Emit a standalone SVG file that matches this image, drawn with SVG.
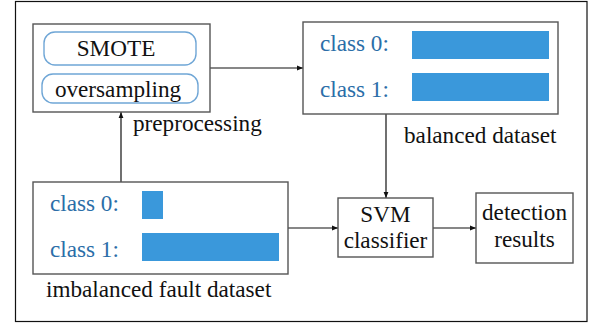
<svg xmlns="http://www.w3.org/2000/svg" width="597" height="326" viewBox="0 0 597 326">
<style>
.box{fill:#fff;stroke:#555;stroke-width:1.4}
.pill{fill:#fff;stroke:#6fa6d6;stroke-width:1.4}
.bar{fill:#3a98db}
text{font-family:'Liberation Serif','Times New Roman','DejaVu Serif',serif;font-size:23.2px}
.t{fill:#111}
.c{fill:#2b6ea8}
.mid{text-anchor:middle}
.ln{stroke:#111;stroke-width:1.2;fill:none}
</style>
<defs>
<marker id="ah" viewBox="0 0 10 10" refX="10" refY="5" markerWidth="8" markerHeight="6" orient="auto" markerUnits="userSpaceOnUse">
<path d="M0,1 L10,5 L0,9 z" fill="#111"/>
</marker>
</defs>
<rect x="0" y="0" width="597" height="326" fill="#fff"/>
<rect x="15.5" y="1.5" width="571.5" height="320" fill="none" stroke="#111" stroke-width="1.2"/>
<g id="connectors">
<path class="ln" d="M121,182 V112" marker-end="url(#ah)"/>
<path class="ln" d="M210,68 H303" marker-end="url(#ah)"/>
<path class="ln" d="M386,114 V198" marker-end="url(#ah)"/>
<path class="ln" d="M288,228 H338" marker-end="url(#ah)"/>
<path class="ln" d="M433,228 H476" marker-end="url(#ah)"/>
</g>
<g id="smote">
<rect class="box" x="33" y="24" width="177" height="88"/>
<rect class="pill" x="44" y="32" width="152" height="33" rx="11"/>
<rect class="pill" x="42" y="74" width="156" height="29" rx="11"/>
<text class="t mid" x="116" y="56">SMOTE</text>
<text class="t mid" x="118" y="97">oversampling</text>
</g>
<text class="t" x="133" y="131">preprocessing</text>
<g id="balanced">
<rect class="box" x="303" y="22" width="255" height="92"/>
<text class="c" x="320" y="51">class 0:</text>
<text class="c" x="320" y="97">class 1:</text>
<rect class="bar" x="412" y="31" width="137" height="28"/>
<rect class="bar" x="412" y="73" width="137" height="28"/>
<text class="t" x="404" y="143">balanced dataset</text>
</g>
<g id="imbalanced">
<rect class="box" x="33" y="182" width="255" height="92"/>
<text class="c" x="50" y="211">class 0:</text>
<text class="c" x="50" y="257">class 1:</text>
<rect class="bar" x="142" y="191" width="21" height="28"/>
<rect class="bar" x="142" y="233" width="137" height="28"/>
<text class="t" x="46" y="297">imbalanced fault dataset</text>
</g>
<g id="svm">
<rect class="box" x="338" y="198" width="95" height="59"/>
<text class="t mid" x="385.5" y="222">SVM</text>
<text class="t mid" x="385.5" y="248">classifier</text>
</g>
<g id="detection">
<rect class="box" x="476" y="193" width="97" height="70"/>
<text class="t mid" x="524.5" y="220">detection</text>
<text class="t mid" x="524.5" y="247">results</text>
</g>
</svg>
